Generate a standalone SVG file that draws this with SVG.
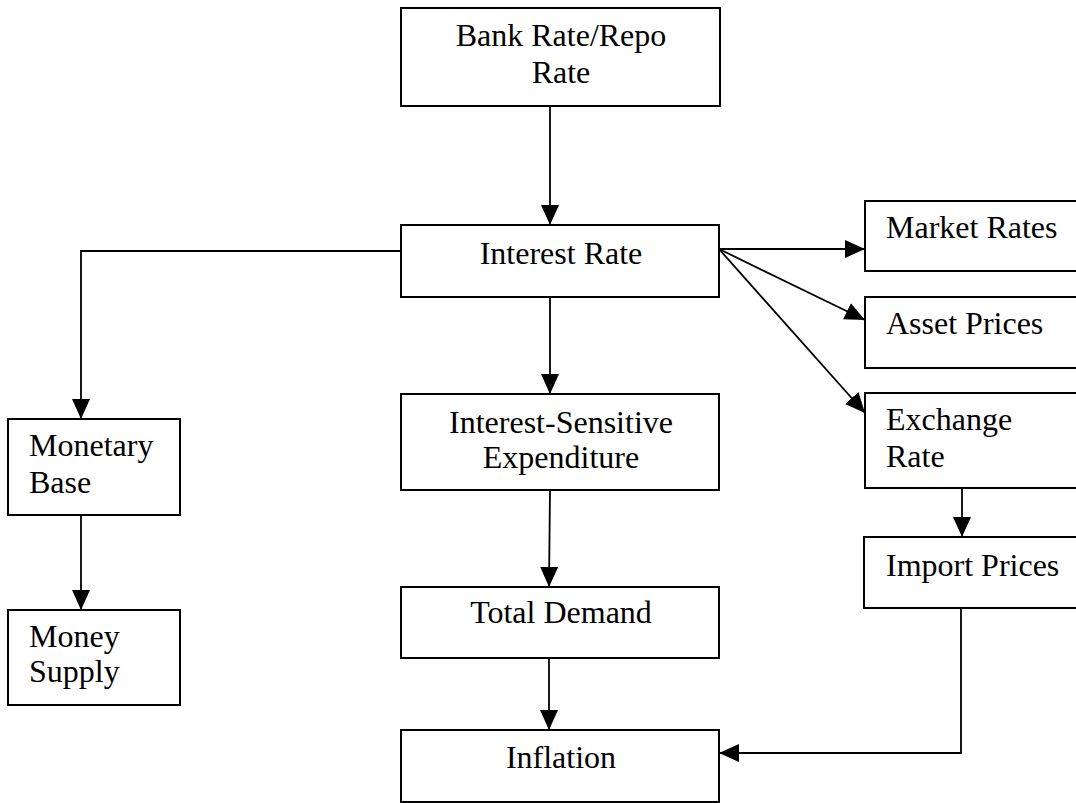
<svg xmlns="http://www.w3.org/2000/svg" width="1076" height="803" viewBox="0 0 1076 803">
<defs>
<style>
.box{fill:#fff;stroke:#000;stroke-width:2}
.lbl{font-family:"Liberation Serif","Times New Roman",serif;font-size:32px;fill:#000}
.c{text-anchor:middle}
.conn{fill:none;stroke:#000;stroke-width:1.8}
</style>
<marker id="ah" markerUnits="userSpaceOnUse" markerWidth="20" markerHeight="20" refX="20" refY="10" orient="auto" viewBox="0 0 20 20">
<path d="M0,1 L20,10 L0,19 z" fill="#000"/>
</marker>
</defs>
<rect width="1076" height="803" fill="#fff"/>
<g id="connectors">
<line class="conn" x1="550" y1="106" x2="550" y2="225" marker-end="url(#ah)"/>
<polyline class="conn" points="401,251 81,251 81,419" marker-end="url(#ah)"/>
<line class="conn" x1="81" y1="515" x2="81" y2="610" marker-end="url(#ah)"/>
<line class="conn" x1="550" y1="297" x2="550" y2="394" marker-end="url(#ah)"/>
<line class="conn" x1="550" y1="490" x2="549" y2="587" marker-end="url(#ah)"/>
<line class="conn" x1="549" y1="658" x2="549" y2="730" marker-end="url(#ah)"/>
<line class="conn" x1="719" y1="249" x2="865" y2="249" marker-end="url(#ah)"/>
<line class="conn" x1="719" y1="249" x2="865" y2="320" marker-end="url(#ah)"/>
<line class="conn" x1="719" y1="249" x2="865" y2="413" marker-end="url(#ah)"/>
<line class="conn" x1="962" y1="488" x2="962" y2="537" marker-end="url(#ah)"/>
<polyline class="conn" points="961,608 961,753 719,753" marker-end="url(#ah)"/>
</g>
<g id="bank-rate">
<rect class="box" x="401" y="8" width="319" height="98"/>
<text class="lbl c" x="561" y="46">Bank Rate/Repo</text>
<text class="lbl c" x="561" y="83">Rate</text>
</g>
<g id="interest-rate">
<rect class="box" x="401" y="225" width="318" height="72"/>
<text class="lbl c" x="561" y="264">Interest Rate</text>
</g>
<g id="monetary-base">
<rect class="box" x="8" y="419" width="172" height="96"/>
<text class="lbl" x="29" y="456">Monetary</text>
<text class="lbl" x="29" y="493">Base</text>
</g>
<g id="money-supply">
<rect class="box" x="8" y="610" width="172" height="95"/>
<text class="lbl" x="29" y="647">Money</text>
<text class="lbl" x="29" y="682">Supply</text>
</g>
<g id="interest-sensitive">
<rect class="box" x="401" y="394" width="318" height="96"/>
<text class="lbl c" x="561" y="433">Interest-Sensitive</text>
<text class="lbl c" x="561" y="468">Expenditure</text>
</g>
<g id="total-demand">
<rect class="box" x="401" y="587" width="318" height="71"/>
<text class="lbl c" x="561" y="623">Total Demand</text>
</g>
<g id="inflation">
<rect class="box" x="401" y="730" width="318" height="72"/>
<text class="lbl c" x="561" y="768">Inflation</text>
</g>
<g id="market-rates">
<rect class="box" x="865" y="201" width="220" height="70"/>
<text class="lbl" x="886" y="238">Market Rates</text>
</g>
<g id="asset-prices">
<rect class="box" x="865" y="297" width="220" height="71"/>
<text class="lbl" x="886" y="334">Asset Prices</text>
</g>
<g id="exchange-rate">
<rect class="box" x="865" y="393" width="220" height="95"/>
<text class="lbl" x="886" y="430">Exchange</text>
<text class="lbl" x="886" y="467">Rate</text>
</g>
<g id="import-prices">
<rect class="box" x="864" y="537" width="220" height="71"/>
<text class="lbl" x="886" y="576">Import Prices</text>
</g>
</svg>
